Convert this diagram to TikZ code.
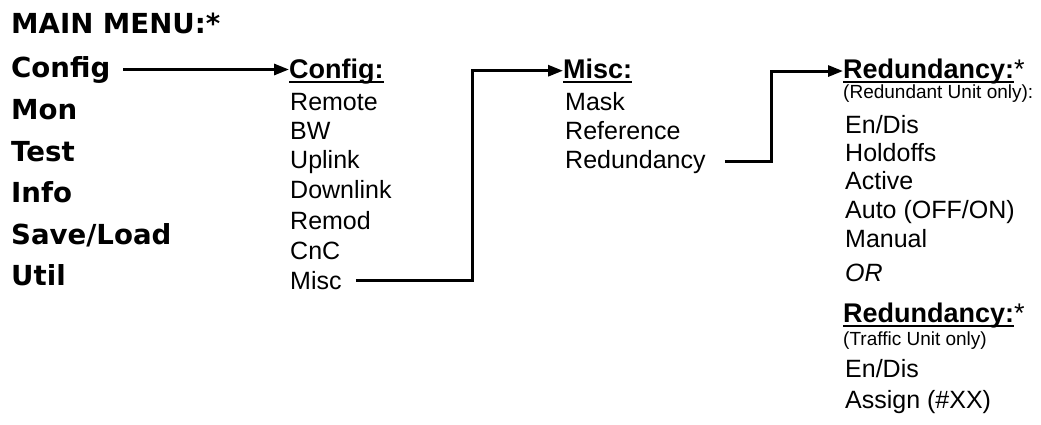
\documentclass[tikz,border=0pt]{standalone}
\usepackage{fontspec}
\setmainfont{Liberation Sans}
\newfontfamily\menufont{DejaVu Sans}
\usetikzlibrary{arrows.meta,positioning}
\newsavebox\hdbox
\newcommand\hdline[1]{\sbox\hdbox{#1}\rlap{\rule[-5pt]{\wd\hdbox}{2.2pt}}\usebox\hdbox}
\tikzset{
	menu/.style={anchor=base west, inner sep=0pt, font=\menufont\bfseries\fontsize{27.6}{32}\selectfont},
	head/.style={anchor=base west, inner sep=0pt, font=\bfseries\fontsize{27}{32}\selectfont},
	entry/.style={anchor=base west, inner sep=0pt, font=\fontsize{25}{30}\selectfont},
	remark/.style={anchor=base west, inner sep=0pt, font=\fontsize{19}{22}\selectfont},
	link/.style={-{Triangle[length=15pt, width=11pt]}, line width=3pt}
}

\begin{document}
\begin{tikzpicture}[x=1pt, y=-1pt]
	\useasboundingbox (0,0) rectangle (1041,424);
	% main menu
	\node[menu] (mainmenu) at (11,33) {MAIN MENU:*};
	\node[menu] (cfgmain) at (11,77) {Config};
	\node[menu] (mon) at (11,119) {Mon};
	\node[menu] (test) at (11,161) {Test};
	\node[menu] (info) at (11,202) {Info};
	\node[menu] (saveload) at (11,244) {Save/Load};
	\node[menu] (util) at (11,285) {Util};
	% config menu
	\node[head] (cfghead) at (289,78) {\hdline{Config:}};
	\node[entry] (remote) at (290,110) {Remote};
	\node[entry] (bw) at (290,139) {BW};
	\node[entry] (uplink) at (290,168) {Uplink};
	\node[entry] (downlink) at (290,198) {Downlink};
	\node[entry] (remod) at (290,229) {Remod};
	\node[entry] (cnc) at (290,259) {CnC};
	\node[entry] (misc) at (290,289) {Misc};
	% misc menu
	\node[head] (mischead) at (563,78) {\hdline{Misc:}};
	\node[entry] (mask) at (565,110) {Mask};
	\node[entry] (reference) at (565,139) {Reference};
	\node[entry] (redund) at (565,168) {Redundancy};
	% redundancy menu
	\node[head] (redhead) at (843,78) {\hdline{Redundancy:}\mdseries*};
	\node[remark] (rednote) at (843,98) {(Redundant Unit only):};
	\node[entry] (endis) at (845,133) {En/Dis};
	\node[entry] (holdoffs) at (845,161) {Holdoffs};
	\node[entry] (active) at (845,189) {Active};
	\node[entry] (auto) at (845,218) {Auto (OFF/ON)};
	\node[entry] (manual) at (845,247) {Manual};
	\node[entry, font=\itshape\fontsize{25}{30}\selectfont] (alt) at (845,281) {OR};
	\node[head] (traffichead) at (843,322) {\hdline{Redundancy:}\mdseries*};
	\node[remark] (trafficnote) at (843,345) {(Traffic Unit only)};
	\node[entry] (trafficendis) at (845,377) {En/Dis};
	\node[entry] (assign) at (845,408) {Assign (\#XX)};
	% connectors
	\coordinate (misccorner) at (472,0);
	\coordinate (redcorner) at (771,0);
	\draw[link] ([xshift=13pt]cfgmain.east) -- (cfghead.west |- cfgmain.east);
	\draw[link] ([xshift=14pt]misc.east) -| (misccorner |- mischead.west) -- (mischead.west);
	\draw[link] ([xshift=19pt]redund.east) -| (redcorner |- redhead.west) -- (redhead.west);
\end{tikzpicture}
\end{document}
